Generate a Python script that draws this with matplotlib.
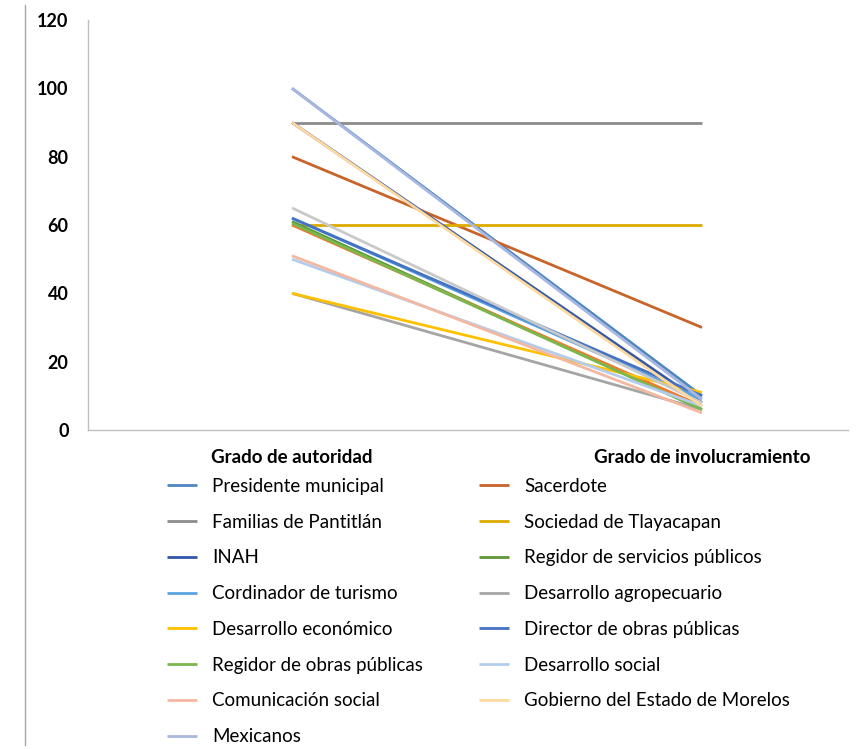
import matplotlib
matplotlib.use("Agg")
import matplotlib.pyplot as plt
from matplotlib.lines import Line2D

plt.rcParams['font.family'] = ['Lato', 'DejaVu Sans']

categories = ["Grado de autoridad", "Grado de involucramiento"]

series_names = [
    "Presidente municipal", "Sacerdote",
    "Familias de Pantitlán", "Sociedad de Tlayacapan",
    "INAH", "Regidor de servicios públicos",
    "Cordinador de turismo", "Desarrollo agropecuario",
    "Desarrollo económico", "Director de obras públicas",
    "Regidor de obras públicas", "Desarrollo social",
    "Comunicación social", "Gobierno del Estado de Morelos",
    "Mexicanos",
]
autoridad = [100, 80, 90, 60, 90, 61, 62, 40, 40, 62, 60.5, 50, 51, 90, 100]
involucramiento = [10, 30, 90, 60, 8, 6, 9, 6, 11, 10, 6, 7, 5, 7, 9]
series_colors = [
    "#4E86C0", "#C8642A",
    "#8C8C8C", "#DDAA00",
    "#3257A8", "#5E9638",
    "#5BA3E0", "#A5A5A5",
    "#FFC000", "#4472C4",
    "#78B84E", "#B4CCEC",
    "#F4B8A0", "#FDD9A0",
    "#A9B8E0",
]

# two further unnamed series
extra_autoridad = [65, 60]
extra_involucramiento = [8, 7]
extra_colors = ["#C9C9C9", "#ED7D31"]

W, H = 859, 749
fig = plt.figure(figsize=(W / 100, H / 100), dpi=100)
ax = fig.add_axes([88 / W, 1 - 430 / H, (848 - 88) / W, (430 - 20) / H])

x = [0, 1]
handles = []
for i in range(len(series_names)):
    if i == 6:
        ax.plot(x, [extra_autoridad[1], extra_involucramiento[1]],
                color=extra_colors[1], lw=2.0, solid_capstyle='butt')
    if i == 10:
        ax.plot(x, [extra_autoridad[0], extra_involucramiento[0]],
                color=extra_colors[0], lw=2.0, solid_capstyle='butt')
    h, = ax.plot(x, [autoridad[i], involucramiento[i]], color=series_colors[i],
                 lw=2.0, solid_capstyle='butt', label=series_names[i])
    handles.append(h)

ax.set_ylim(0, 120)
ax.set_yticks(range(0, 121, 20))
ax.set_xlim(-(292 - 88) / 410, (848 - 292) / 410)
ax.set_xticks(x)
ax.set_xticklabels(categories, fontsize=13.5, fontweight='bold')
ax.tick_params(axis='both', length=0, colors='#000000')
ax.tick_params(axis='y', pad=14, labelsize=13)
ax.tick_params(axis='x', pad=14)
for lab in ax.get_yticklabels():
    lab.set_fontweight('bold')
for s in ['top', 'right']:
    ax.spines[s].set_visible(False)
for s in ['left', 'bottom']:
    ax.spines[s].set_color('#BFBFBF')
    ax.spines[s].set_linewidth(1.0)

# legend reads left-to-right, row by row
leg_order = list(range(0, len(series_names), 2)) + list(range(1, len(series_names), 2))
fig.legend(handles=[handles[i] for i in leg_order],
           labels=[series_names[i] for i in leg_order],
           ncol=2, frameon=False,
           loc='upper left', bbox_to_anchor=(150 / W, 1 - 461 / H),
           fontsize=13.5, handlelength=1.6, handletextpad=0.8,
           labelspacing=1.0, columnspacing=3.0)

fig.add_artist(Line2D([25 / W, 25 / W], [1 - 745 / H, 1 - 5 / H],
                      color='#A6A6A6', lw=1.0))

fig.savefig("out.png", dpi=100)
